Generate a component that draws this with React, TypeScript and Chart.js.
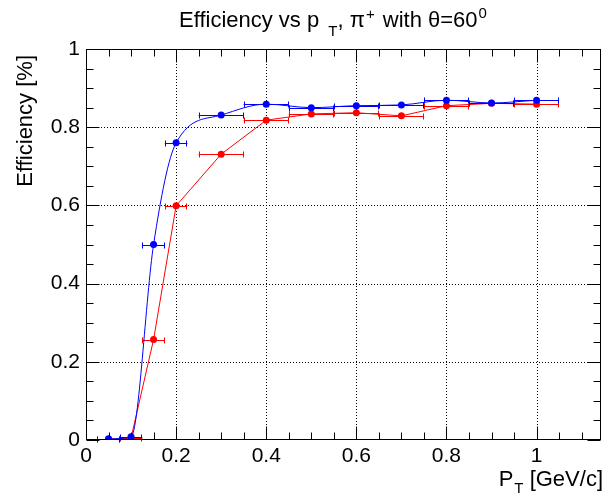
import React, { useEffect, useRef } from 'react';
import { Chart, registerables } from 'chart.js';

Chart.register(...registerables);

// ---- data ----
const ptValues = [0.05, 0.1, 0.15, 0.2, 0.3, 0.4, 0.5, 0.6, 0.7, 0.8, 0.9, 1.0];
const ptErrors = [0.025, 0.025, 0.025, 0.025, 0.05, 0.05, 0.05, 0.05, 0.05, 0.05, 0.05, 0.05];
const effBlue = [0.003, 0.008, 0.5, 0.76, 0.831, 0.859, 0.85, 0.855, 0.857, 0.869, 0.862, 0.869];
const effRed = [0.002, 0.005, 0.257, 0.599, 0.731, 0.818, 0.834, 0.837, 0.829, 0.855, 0.861, 0.859];
const xTicks = [0, 0.2, 0.4, 0.6, 0.8, 1];
const yTicks = [0, 0.2, 0.4, 0.6, 0.8, 1];
const xRange = [0, 1.143];
const yRange = [0, 1];

const FONT = '"Liberation Sans", Arial, Helvetica, sans-serif';

type Seg = { t: string; size: number; dy: number; dx?: number };

function drawSegs(ctx: CanvasRenderingContext2D, segs: Seg[], x: number, y: number, align: 'left' | 'right') {
  ctx.save();
  ctx.textAlign = 'left';
  ctx.textBaseline = 'alphabetic';
  let total = 0;
  for (const s of segs) {
    ctx.font = `${s.size}px ${FONT}`;
    total += ctx.measureText(s.t).width + (s.dx || 0);
  }
  let cx = align === 'right' ? x - total : x;
  for (const s of segs) {
    ctx.font = `${s.size}px ${FONT}`;
    cx += s.dx || 0;
    ctx.fillText(s.t, cx, y + s.dy);
    cx += ctx.measureText(s.t).width;
  }
  ctx.restore();
}

const errorBarPlugin = {
  id: 'errorBars',
  beforeDatasetDraw(chart: any, args: any) {
    const ds = chart.data.datasets[args.index];
    const { ctx, scales } = chart;
    const xs = scales.x, ys = scales.y;
    ctx.save();
    ctx.strokeStyle = ds.borderColor;
    ctx.lineWidth = 1;
    ds.data.forEach((p: any, i: number) => {
      const e = ptErrors[i];
      const x1 = xs.getPixelForValue(p.x - e);
      const x2 = xs.getPixelForValue(p.x + e);
      const y = Math.round(ys.getPixelForValue(p.y)) + 0.5;
      ctx.beginPath();
      ctx.moveTo(x1, y);
      ctx.lineTo(x2, y);
      ctx.moveTo(Math.round(x1) + 0.5, y - 3);
      ctx.lineTo(Math.round(x1) + 0.5, y + 3);
      ctx.moveTo(Math.round(x2) - 0.5, y - 3);
      ctx.lineTo(Math.round(x2) - 0.5, y + 3);
      ctx.stroke();
    });
    ctx.restore();
  },
};

const framePlugin = {
  id: 'frame',
  beforeDatasetsDraw(chart: any) {
    const { ctx, chartArea: a, scales } = chart;
    ctx.save();
    ctx.strokeStyle = '#000';
    ctx.lineWidth = 1;
    ctx.setLineDash([1, 2]);
    xTicks.forEach((v) => {
      if (v <= xRange[0] || v >= xRange[1]) return;
      const x = Math.round(scales.x.getPixelForValue(v)) + 0.5;
      ctx.beginPath();
      ctx.moveTo(x, a.top);
      ctx.lineTo(x, a.bottom);
      ctx.stroke();
    });
    yTicks.forEach((v) => {
      if (v <= yRange[0] || v >= yRange[1]) return;
      const y = Math.round(scales.y.getPixelForValue(v)) + 0.5;
      ctx.beginPath();
      ctx.moveTo(a.left, y);
      ctx.lineTo(a.right, y);
      ctx.stroke();
    });
    ctx.restore();
  },
  afterDraw(chart: any) {
    const { ctx, chartArea: a, scales } = chart;
    ctx.save();
    ctx.strokeStyle = '#000';
    ctx.lineWidth = 1;
    const L = Math.round(a.left) + 0.5, R = Math.round(a.right) - 0.5;
    const T = Math.round(a.top) + 0.5, B = Math.round(a.bottom) - 0.5;
    ctx.strokeRect(L, T, R - L, B - T);
    ctx.beginPath();
    for (let k = 0; k * 0.05 <= xRange[1] + 1e-9; k++) {
      const v = k * 0.05;
      const major = k % 4 === 0;
      const len = major ? 13 : 7;
      const x = Math.round(scales.x.getPixelForValue(v)) + 0.5;
      ctx.moveTo(x, B); ctx.lineTo(x, B - len);
      ctx.moveTo(x, T); ctx.lineTo(x, T + len);
    }
    for (let k = 0; k * 0.05 <= yRange[1] + 1e-9; k++) {
      const v = k * 0.05;
      const major = k % 4 === 0;
      const len = major ? 13 : 7;
      const y = Math.round(scales.y.getPixelForValue(v)) + 0.5;
      ctx.moveTo(L, y); ctx.lineTo(L + len, y);
      ctx.moveTo(R, y); ctx.lineTo(R - len, y);
    }
    ctx.stroke();
    ctx.restore();

    ctx.save();
    ctx.fillStyle = '#000';
    // Title
    drawSegs(ctx, [
      { t: 'Efficiency vs p ', size: 22, dy: 0 },
      { t: 'T', size: 15, dy: 9, dx: 3 },
      { t: ', \u03c0', size: 22, dy: 0 },
      { t: '+', size: 15, dy: -8, dx: 1 },
      { t: ' with \u03b8=60', size: 22, dy: 0, dx: 2 },
      { t: '0', size: 15, dy: -9, dx: 1 },
    ], 179, 27, 'left');
    // X title
    drawSegs(ctx, [
      { t: 'P', size: 22, dy: 0 },
      { t: 'T', size: 15, dy: 7, dx: 1 },
      { t: ' [GeV/c]', size: 22, dy: 0 },
    ], 603, 486, 'right');
    // Y title
    ctx.translate(32, 55);
    ctx.rotate(-Math.PI / 2);
    ctx.font = `22px ${FONT}`;
    ctx.textAlign = 'right';
    ctx.textBaseline = 'alphabetic';
    ctx.fillText('Efficiency [%]', 0, 0);
    ctx.restore();
  },
};

const fmt = (v: number) => (v === 0 ? '0' : v === 1 ? '1' : v.toFixed(1));

export default function App() {
  const ref = useRef<HTMLCanvasElement>(null);
  useEffect(() => {
    document.body.style.margin = '0';
    const c = ref.current!;
    const chart = new Chart(c, {
      type: 'line',
      data: {
        datasets: [
          {
            label: 'blue',
            data: ptValues.map((x, i) => ({ x, y: effBlue[i] })),
            borderColor: '#0000ff',
            backgroundColor: '#0000ff',
            borderWidth: 1,
            pointRadius: 3.5,
            pointBorderWidth: 0,
            pointBackgroundColor: '#0000ff',
            cubicInterpolationMode: 'monotone',
            fill: false,
          },
          {
            label: 'red',
            data: ptValues.map((x, i) => ({ x, y: effRed[i] })),
            borderColor: '#ff0000',
            backgroundColor: '#ff0000',
            borderWidth: 1,
            pointRadius: 3.5,
            pointBorderWidth: 0,
            pointBackgroundColor: '#ff0000',
            tension: 0,
            fill: false,
          },
        ],
      },
      options: {
        animation: false,
        responsive: false,
        devicePixelRatio: 1,
        layout: { padding: { top: 49, right: 2, left: 0, bottom: 0 } },
        plugins: { legend: { display: false }, tooltip: { enabled: false }, title: { display: false } },
        scales: {
          x: {
            type: 'linear',
            min: xRange[0],
            max: xRange[1],
            afterBuildTicks: (s: any) => { s.ticks = xTicks.map((v) => ({ value: v })); },
            afterFit: (s: any) => { s.height = 58; },
            grid: { display: false, drawTicks: false },
            border: { display: false },
            ticks: {
              font: { family: FONT, size: 21 },
              color: '#000',
              padding: 4,
              maxRotation: 0,
              autoSkip: false,
              callback: (v: any) => fmt(Number(v)),
            },
          },
          y: {
            type: 'linear',
            min: yRange[0],
            max: yRange[1],
            afterBuildTicks: (s: any) => { s.ticks = yTicks.map((v) => ({ value: v })); },
            afterFit: (s: any) => { s.width = 86; },
            grid: { display: false, drawTicks: false },
            border: { display: false },
            ticks: {
              font: { family: FONT, size: 21 },
              color: '#000',
              padding: 6,
              autoSkip: false,
              callback: (v: any) => fmt(Number(v)),
            },
          },
        },
      },
      plugins: [errorBarPlugin, framePlugin],
    } as any);
    return () => chart.destroy();
  }, []);
  return <canvas ref={ref} width={605} height={498} style={{ display: 'block' }} />;
}
